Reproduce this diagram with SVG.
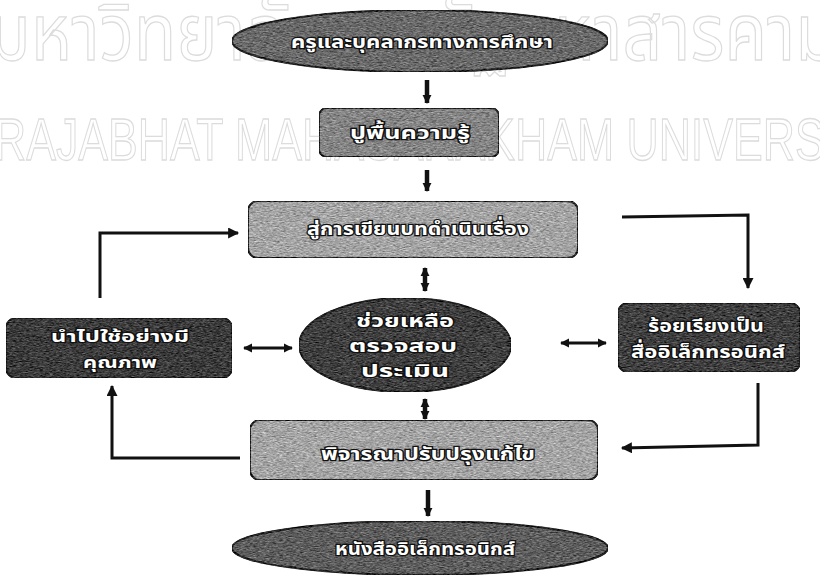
<svg xmlns="http://www.w3.org/2000/svg" width="820" height="578" viewBox="0 0 820 578">
  <defs>
    <!-- streaky print texture for the node fills -->
    <filter id="grain" x="0" y="0" width="100%" height="100%" color-interpolation-filters="sRGB">
      <feTurbulence type="fractalNoise" baseFrequency="0.3 1.2" numOctaves="2" seed="4" result="noise"/>
      <feColorMatrix in="noise" type="matrix" values="0.33 0.33 0.33 0 0  0.33 0.33 0.33 0 0  0.33 0.33 0.33 0 0  0 0 0 0 1" result="gray"/>
      <feComposite in="SourceGraphic" in2="gray" operator="arithmetic" k1="0" k2="1" k3="0.9" k4="-0.45" result="mix"/>
      <feComposite in="mix" in2="SourceAlpha" operator="in"/>
    </filter>
    <marker id="head" viewBox="0 0 10 10" refX="9" refY="5" markerUnits="userSpaceOnUse" markerWidth="14" markerHeight="11" orient="auto-start-reverse">
      <path d="M0,0 L10,5 L0,10 z" fill="#111"/>
    </marker>
    <marker id="headS" viewBox="0 0 10 10" refX="9" refY="5" markerUnits="userSpaceOnUse" markerWidth="9" markerHeight="10" orient="auto-start-reverse">
      <path d="M0,0 L10,5 L0,10 z" fill="#111"/>
    </marker>
  </defs>
  <style>
    .wm { font-family: "Noto Sans Thai", "Noto Sans", "DejaVu Sans", sans-serif; fill: none; stroke: #dcdcdc; stroke-width: 1.3; }
    .wmL { font-family: "Liberation Sans", Arial, sans-serif; fill: none; stroke: #dcdcdc; stroke-width: 1.3; }
    .lbl { font-family: "Noto Sans Thai", "Noto Sans", "DejaVu Sans", sans-serif; font-weight: bold; font-size: 18px; fill: #ffffff; stroke: #111; stroke-width: 2.4; paint-order: stroke; text-anchor: middle; }
    .sm { font-size: 16px; }
    .edge { fill: none; stroke: #111; stroke-width: 3; }
    .thick { fill: none; stroke: #111; stroke-width: 4.5; }
    .nd { stroke: #222; stroke-width: 2; filter: url(#grain); }
  </style>

  <rect width="820" height="578" fill="#ffffff"/>

  <!-- faint background watermark -->
  <g id="watermark">
    <text class="wm" x="-12" y="60" font-size="78" textLength="850" lengthAdjust="spacingAndGlyphs">มหาวิทยาลัยราชภัฏมหาสารคาม</text>
    <text class="wmL" x="-6" y="160" font-size="60" textLength="900" lengthAdjust="spacingAndGlyphs">RAJABHAT MAHASARAKHAM UNIVERSITY</text>
  </g>

  <!-- connectors -->
  <g id="connectors">
    <!-- straight flow arrows -->
    <line class="thick" x1="427" y1="80" x2="427" y2="103" marker-end="url(#headS)"/>
    <line class="thick" x1="427" y1="170" x2="427" y2="191" marker-end="url(#headS)"/>
    <line class="thick" x1="428" y1="490" x2="428" y2="516" marker-end="url(#headS)"/>
    <!-- two-way links to the centre -->
    <line class="thick" x1="425" y1="268" x2="425" y2="291" marker-start="url(#headS)" marker-end="url(#headS)"/>
    <line class="thick" x1="425" y1="399" x2="425" y2="419" marker-start="url(#headS)" marker-end="url(#headS)"/>
    <line class="edge" x1="244" y1="348" x2="292" y2="348" marker-start="url(#headS)" marker-end="url(#headS)"/>
    <line class="edge" x1="561" y1="343" x2="606" y2="343" marker-start="url(#headS)" marker-end="url(#headS)"/>
    <!-- outer loop -->
    <polyline class="edge" points="622,217 748,215 748,288" marker-end="url(#head)"/>
    <polyline class="edge" points="758,383 758,445 622,448" marker-end="url(#head)"/>
    <polyline class="edge" points="240,458 112,458 112,386" marker-end="url(#head)"/>
    <polyline class="edge" points="100,298 100,233 238,233" marker-end="url(#head)"/>
  </g>

  <g id="n-staff">
    <ellipse class="nd" cx="420" cy="41" rx="188" ry="31" fill="#6a6a6a"/>
    <text class="lbl" x="422" y="48" textLength="262" lengthAdjust="spacingAndGlyphs">ครูและบุคลากรทางการศึกษา</text>
  </g>

  <g id="n-basics">
    <rect class="nd" x="319" y="108" width="180" height="49" rx="8" fill="#858585"/>
    <text class="lbl" x="410" y="139" textLength="120" lengthAdjust="spacingAndGlyphs">ปูพื้นความรู้</text>
  </g>

  <g id="n-script">
    <rect class="nd" x="248" y="201" width="330" height="57" rx="10" fill="#a5a5a5"/>
    <text class="lbl" x="418" y="235" textLength="222" lengthAdjust="spacingAndGlyphs">สู่การเขียนบทดำเนินเรื่อง</text>
  </g>

  <g id="n-support">
    <ellipse class="nd" cx="405" cy="345" rx="106" ry="47" fill="#404040"/>
    <text class="lbl" x="405" y="327" textLength="98" lengthAdjust="spacingAndGlyphs">ช่วยเหลือ</text>
    <text class="lbl" x="403" y="352" textLength="108" lengthAdjust="spacingAndGlyphs">ตรวจสอบ</text>
    <text class="lbl" x="405" y="377" textLength="88" lengthAdjust="spacingAndGlyphs">ประเมิน</text>
  </g>

  <g id="n-use">
    <rect class="nd" x="6" y="318" width="226" height="60" rx="10" fill="#3c3c3c"/>
    <text class="lbl sm" x="120" y="342" textLength="138" lengthAdjust="spacingAndGlyphs">นำไปใช้อย่างมี</text>
    <text class="lbl sm" x="120" y="368" textLength="74" lengthAdjust="spacingAndGlyphs">คุณภาพ</text>
  </g>

  <g id="n-assemble">
    <rect class="nd" x="618" y="303" width="182" height="69" rx="10" fill="#404040"/>
    <text class="lbl" x="706" y="332" textLength="116" lengthAdjust="spacingAndGlyphs">ร้อยเรียงเป็น</text>
    <text class="lbl" x="708" y="358" textLength="154" lengthAdjust="spacingAndGlyphs">สื่ออิเล็กทรอนิกส์</text>
  </g>

  <g id="n-revise">
    <rect class="nd" x="250" y="420" width="348" height="60" rx="10" fill="#a5a5a5"/>
    <text class="lbl" x="428" y="460" textLength="214" lengthAdjust="spacingAndGlyphs">พิจารณาปรับปรุงแก้ไข</text>
  </g>

  <g id="n-ebook">
    <ellipse class="nd" cx="420" cy="548" rx="188" ry="27" fill="#5e5e5e"/>
    <text class="lbl" x="425" y="555" textLength="180" lengthAdjust="spacingAndGlyphs">หนังสืออิเล็กทรอนิกส์</text>
  </g>
</svg>
